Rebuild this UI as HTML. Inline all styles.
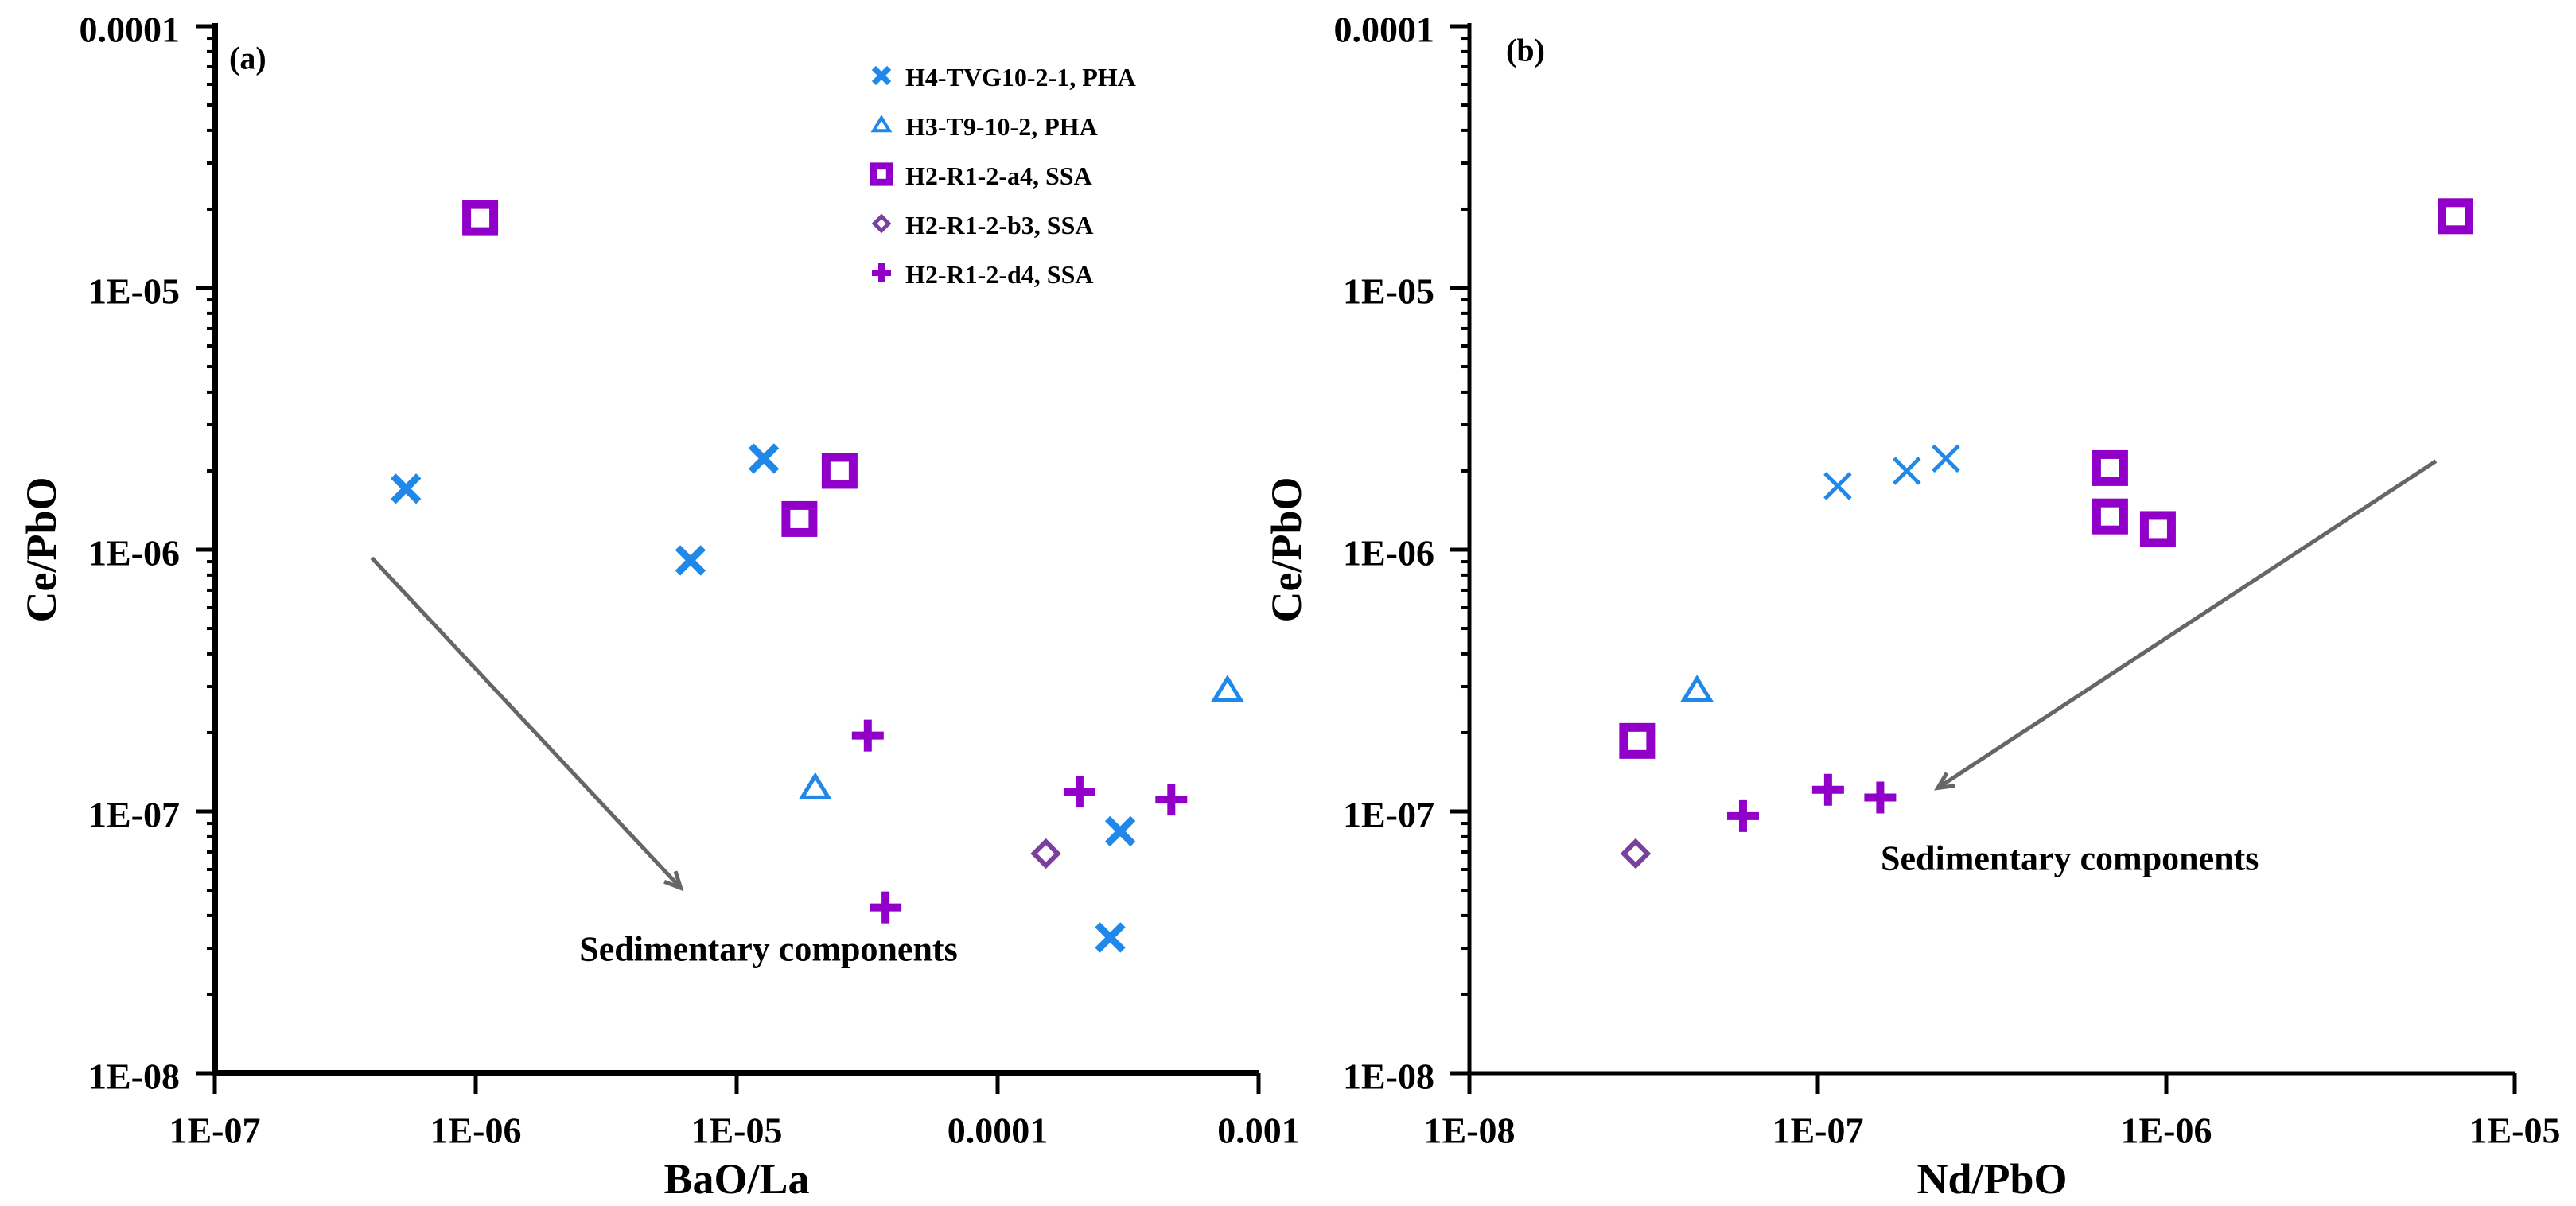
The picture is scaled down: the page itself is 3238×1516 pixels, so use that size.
<!DOCTYPE html>
<html><head><meta charset="utf-8"><style>
html,body{margin:0;padding:0;background:#fff}
svg{display:block}
text{font-family:"Liberation Serif",serif;font-weight:bold;fill:#000}
</style></head><body>
<svg id="chart" width="3238" height="1516" viewBox="0 0 3238 1516" xmlns="http://www.w3.org/2000/svg"></svg>
<script>
// Panel (a) data
const aXTicks = ["1E-07","1E-06","1E-05","0.0001","0.001"];
const bXTicks = ["1E-08","1E-07","1E-06","1E-05"];
const yTicks = ["0.0001","1E-05","1E-06","1E-07","1E-08"];
const aX_H4 = [5.4e-7, 6.65e-6, 1.27e-5, 2.95e-4, 2.7e-4];
const aY_H4 = [1.71e-6, 9.1e-7, 2.23e-6, 8.4e-8, 3.3e-8];
const aX_H3 = [2.0e-5, 7.6e-4];
const aY_H3 = [1.23e-7, 2.9e-7];
const aX_a4 = [1.04e-6, 1.74e-5, 2.48e-5];
const aY_a4 = [1.85e-5, 1.31e-6, 2.0e-6];
const aX_b3 = [1.53e-4];
const aY_b3 = [6.9e-8];
const aX_d4 = [3.18e-5, 3.72e-5, 2.06e-4, 4.63e-4];
const aY_d4 = [1.95e-7, 4.3e-8, 1.19e-7, 1.11e-7];
// Panel (b) data
const bX_H4 = [1.14e-7, 1.80e-7, 2.33e-7];
const bY_H4 = [1.75e-6, 2.0e-6, 2.23e-6];
const bX_H3 = [4.5e-8];
const bY_H3 = [2.9e-7];
const bX_a4 = [6.9e-7, 6.9e-7, 9.46e-7, 6.76e-6, 3.03e-8];
const bY_a4 = [2.05e-6, 1.34e-6, 1.2e-6, 1.88e-5, 1.86e-7];
const bX_b3 = [3.0e-8];
const bY_b3 = [6.9e-8];
const bX_d4 = [6.1e-8, 1.07e-7, 1.51e-7];
const bY_d4 = [9.6e-8, 1.21e-7, 1.13e-7];
const aArrow = [[4.0e-7, 9.3e-7], [6.1e-6, 5.1e-8]];
const bArrow = [[5.94e-6, 2.18e-6], [2.21e-7, 1.23e-7]];

const NS = "http://www.w3.org/2000/svg";
const svg = document.getElementById("chart");
const BLUE = "#2088e8", PURP = "#9000c8", DIA = "#7b3fa0";
const Y0 = 33, YDEC = 329;
function yS(v){ return Y0 + (-4 - Math.log10(v)) * YDEC; }
function mk(tag, attrs, parent){
  const e = document.createElementNS(NS, tag);
  for (const k in attrs) e.setAttribute(k, attrs[k]);
  (parent || svg).appendChild(e);
  return e;
}
function txt(s, x, y, size, anchor, parent){
  const t = mk("text", {x:x, y:y, "font-size":size, "text-anchor":anchor||"middle", "dominant-baseline":"central"}, parent);
  t.textContent = s; return t;
}
function marker(type, x, y, g, small){
  const s = small ? 0.6 : 1;
  let e;
  if (type === "x" || type === "xt") {
    const h = 16 * s, w = (type === "x" ? 9 : 5) * (small ? 0.8 : 1);
    e = mk("path", {d:`M${x-h},${y-h}L${x+h},${y+h}M${x-h},${y+h}L${x+h},${y-h}`, stroke:BLUE, "stroke-width":w, fill:"none"}, g);
  } else if (type === "tri") {
    const h = 15 * s;
    e = mk("path", {d:`M${x},${y-h}L${x+h*1.1},${y+h*0.8}L${x-h*1.1},${y+h*0.8}Z`, stroke:BLUE, "stroke-width":5*(small?0.8:1), fill:"none"}, g);
  } else if (type === "sq") {
    const h = 17 * s;
    e = mk("rect", {x:x-h, y:y-h, width:2*h, height:2*h, stroke:PURP, "stroke-width":11*(small?0.8:1), fill:"none"}, g);
  } else if (type === "dia") {
    const h = 15 * s;
    e = mk("path", {d:`M${x},${y-h}L${x+h},${y}L${x},${y+h}L${x-h},${y}Z`, stroke:DIA, "stroke-width":6*(small?0.8:1), fill:"none"}, g);
  } else {
    const h = 20 * s;
    e = mk("path", {d:`M${x-h},${y}L${x+h},${y}M${x},${y-h}L${x},${y+h}`, stroke:PURP, "stroke-width":10*(small?0.8:1), fill:"none"}, g);
  }
  return e;
}
function panel(opts){
  const g = mk("g", {});
  
  
  const xS = v => opts.x0 + (Math.log10(v) - opts.lmin) * opts.xdec;
  const yB = yS(1e-8), xE = opts.x0 + opts.xTicks.length * opts.xdec - opts.xdec;
  const ax = mk("g", {}, g);
  
  
  for (let d = -8; d < -4; d++) for (let m = 2; m <= 9; m++) {
    const yy = yS(m * Math.pow(10, d));
    mk("line", {x1:opts.x0-10, x2:opts.x0, y1:yy, y2:yy, stroke:"#000", "stroke-width":4}, ax);
  }
  yTicks.forEach((t, i) => {
    const yy = Y0 + i * YDEC;
    mk("line", {x1:opts.x0-24, x2:opts.x0, y1:yy, y2:yy, stroke:"#000", "stroke-width":5}, ax);
    const l = txt(t, opts.x0 - 44, yy + 4, 46, "end", ax);
    
    
  });
  opts.xTicks.forEach((t, i) => {
    const xx = opts.x0 + i * opts.xdec;
    mk("line", {x1:xx, x2:xx, y1:yB, y2:yB+26, stroke:"#000", "stroke-width":5}, ax);
    const l = txt(t, xx, yB + 72, 46, "middle", ax);
    
    
  });
  mk("line", {x1:opts.x0, x2:opts.x0, y1:Y0-4, y2:yB+4, stroke:"#000", "stroke-width":opts.aw}, ax);
  mk("line", {x1:opts.x0-4, x2:xE, y1:yB, y2:yB, stroke:"#000", "stroke-width":opts.aw}, ax);
  const xt = txt(opts.xTitle, (opts.x0 + xE)/2, 1482, 54, "middle", g);
  
  
  const yt = txt("Ce/PbO", 0, 0, 54, "middle", g);
  yt.setAttribute("transform", `translate(${opts.ytx},691) rotate(-90)`);
  
  
  const pl = txt(opts.label, opts.lx, opts.ly, 40, "start", g);
  
  
  const A = opts.arrow;
  const x1 = xS(A[0][0]), y1 = yS(A[0][1]), x2 = xS(A[1][0]), y2 = yS(A[1][1]);
  const ang = Math.atan2(y2-y1, x2-x1), L = 22;
  const arr = mk("path", {d:`M${x1},${y1}L${x2},${y2}M${x2-L*Math.cos(ang-0.45)},${y2-L*Math.sin(ang-0.45)}L${x2},${y2}L${x2-L*Math.cos(ang+0.45)},${y2-L*Math.sin(ang+0.45)}`, stroke:"#666", "stroke-width":5, fill:"none"}, g);
  
  
  const an = txt("Sedimentary components", opts.tx, opts.ty, 44, opts.ta, g);
  
  
  opts.series.forEach(s => {
    const sg = mk("g", {}, g);
    
    
    s.xs.forEach((v, i) => {
      const m = marker(s.type, xS(v), yS(s.ys[i]), sg);
      
      
    });
  });
}
panel({name:"panel-a", x0:270, xdec:328, lmin:-7, xTicks:aXTicks, xTitle:"BaO/La", aw:8, ytx:52,
  label:"(a)", lx:288, ly:73, arrow:aArrow, tx:966, ty:1193, ta:"middle",
  series:[
    {name:"series-h4-tvg10", type:"x", xs:aX_H4, ys:aY_H4},
    {name:"series-h3-t9", type:"tri", xs:aX_H3, ys:aY_H3},
    {name:"series-h2-a4", type:"sq", xs:aX_a4, ys:aY_a4},
    {name:"series-h2-b3", type:"dia", xs:aX_b3, ys:aY_b3},
    {name:"series-h2-d4", type:"plus", xs:aX_d4, ys:aY_d4}]});
panel({name:"panel-b", x0:1847, xdec:438, lmin:-8, xTicks:bXTicks, xTitle:"Nd/PbO", aw:5, ytx:1617,
  label:"(b)", lx:1893, ly:63, arrow:bArrow, tx:2364, ty:1079, ta:"start",
  series:[
    {name:"series-h4-tvg10", type:"xt", xs:bX_H4, ys:bY_H4},
    {name:"series-h3-t9", type:"tri", xs:bX_H3, ys:bY_H3},
    {name:"series-h2-a4", type:"sq", xs:bX_a4, ys:bY_a4},
    {name:"series-h2-b3", type:"dia", xs:bX_b3, ys:bY_b3},
    {name:"series-h2-d4", type:"plus", xs:bX_d4, ys:bY_d4}]});
const legNames = ["H4-TVG10-2-1, PHA","H3-T9-10-2, PHA","H2-R1-2-a4, SSA","H2-R1-2-b3, SSA","H2-R1-2-d4, SSA"];
const legTypes = ["x","tri","sq","dia","plus"];
const leg = mk("g", {});


legNames.forEach((n, i) => {
  const y = 95 + i * 62;
  const eg = mk("g", {}, leg);
  
  
  marker(legTypes[i], 1108, y, eg, true);
  txt(n, 1138, y + 2, 32, "start", eg);
});
</script>
</body></html>
